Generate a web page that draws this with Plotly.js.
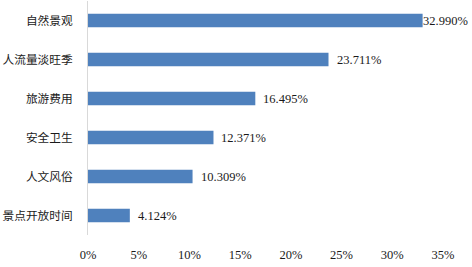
<!DOCTYPE html>
<html>
<head>
<meta charset="utf-8">
<script src="https://cdn.plot.ly/plotly-3.0.1.min.js"></script>
<style>html,body{margin:0;padding:0;background:#fff;}#chart{width:472px;height:267px;}</style>
</head>
<body>
<div id="chart"></div>
<script>
const categories = ["自然景观", "人流量淡旺季", "旅游费用", "安全卫生", "人文风俗", "景点开放时间"];
const values = [32.990, 23.711, 16.495, 12.371, 10.309, 4.124];
const labels = ["32.990%", "23.711%", "16.495%", "12.371%", "10.309%", "4.124%"];
const tickVals = [0, 5, 10, 15, 20, 25, 30, 35];
const tickText = ["0%", "5%", "10%", "15%", "20%", "25%", "30%", "35%"];
// label offsets (px) from bar end, as in the original
const labelShift = [-1, 7, 7, 7, 7, 7];

const trace = {
  type: "bar",
  orientation: "h",
  y: categories,
  x: values,
  marker: {color: "#4F81BD"},
  hoverinfo: "none"
};

const annotations = categories.map((c, i) => ({
  x: values[i],
  y: c,
  xref: "x",
  yref: "y",
  text: labels[i],
  showarrow: false,
  xanchor: "left",
  yanchor: "middle",
  xshift: labelShift[i],
  borderpad: 0,
  font: {family: "Liberation Serif, Times New Roman, serif", size: 12.5, color: "#1a1a1a"}
}));

const layout = {
  width: 472,
  height: 267,
  margin: {l: 87.5, r: 29, t: 1, b: 32},
  paper_bgcolor: "#fff",
  plot_bgcolor: "#fff",
  bargap: 0.66,
  showlegend: false,
  annotations: annotations,
  font: {family: "Liberation Serif, Noto Sans CJK SC, serif", size: 12, color: "#1a1a1a"},
  xaxis: {
    range: [0, 35],
    tickvals: tickVals,
    ticktext: tickText,
    showgrid: false,
    zeroline: false,
    showline: false,
    ticks: "",
    ticklabelstandoff: 10,
    tickfont: {family: "Liberation Serif, serif", size: 12.5, color: "#1a1a1a"}
  },
  yaxis: {
    autorange: "reversed",
    showgrid: false,
    zeroline: false,
    showline: true,
    linecolor: "#d9d9d9",
    linewidth: 1,
    ticks: "",
    ticklabelstandoff: 12,
    tickfont: {family: "Noto Sans CJK SC, sans-serif", size: 11.7, color: "#1a1a1a"}
  }
};

Plotly.newPlot("chart", [trace], layout, {displayModeBar: false, staticPlot: true});
</script>
</body>
</html>
